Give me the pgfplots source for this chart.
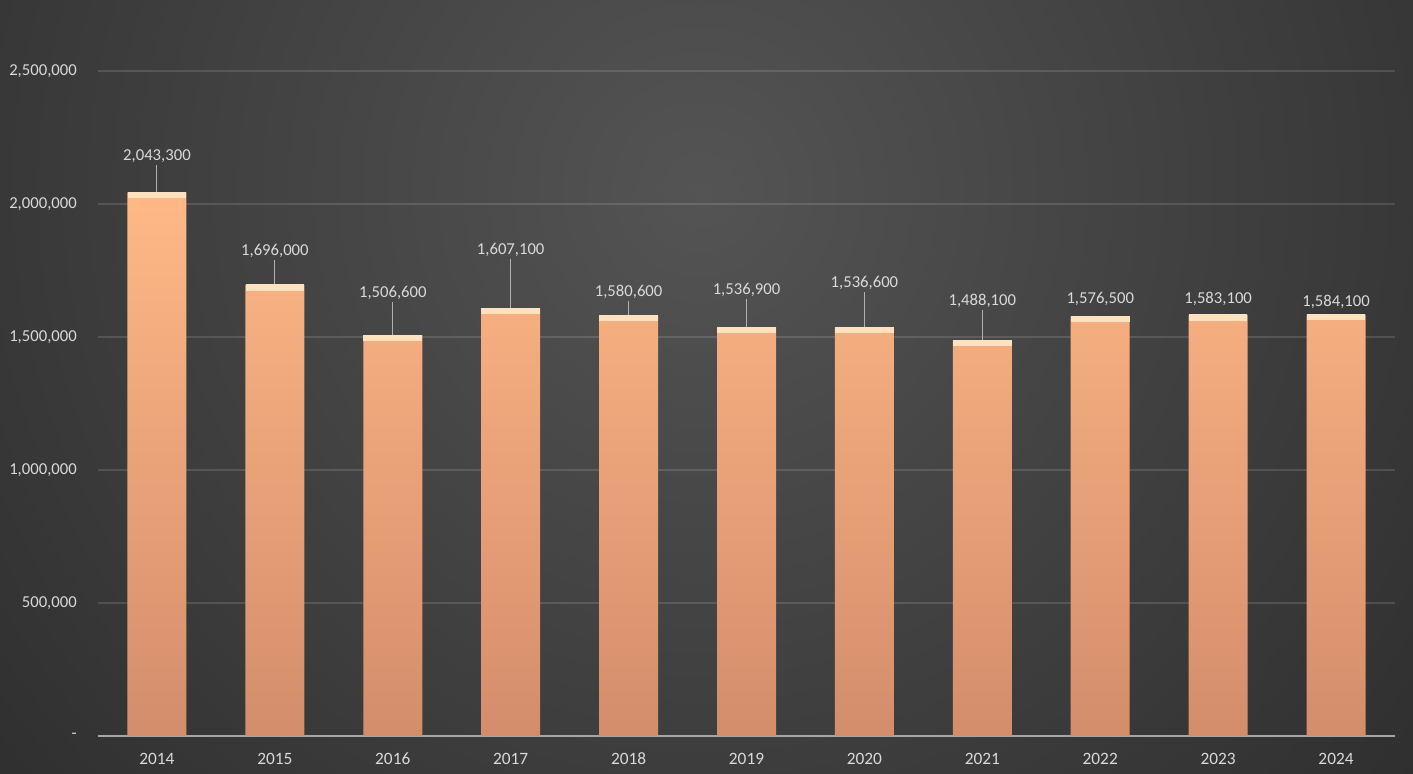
\documentclass[border=0pt]{standalone}
\usepackage{pgfplots}
\usepackage{pgfplotstable}
\pgfplotsset{compat=1.18}
\usepackage{fontspec}
\setmainfont{Carlito}
\definecolor{bgLight}{HTML}{545454}
\definecolor{bgDark}{HTML}{242424}
\definecolor{barTop}{HTML}{FFB886}
\definecolor{barBot}{HTML}{D48D6B}
\definecolor{bevel}{HTML}{FFE0BF}
\definecolor{lbl}{HTML}{D9D9D9}
\definecolor{lead}{HTML}{B0B0B0}
\definecolor{baseline}{HTML}{A6A6A6}

\pgfplotstableread{
x y ly em lab
0 2043300 2146600 103300 2,043,300
1 1696000 1789500 93500 1,696,000
2 1506600 1631600 125000 1,506,600
3 1607100 1793200 186100 1,607,100
4 1580600 1635400 54800 1,580,600
5 1536900 1642900 106000 1,536,900
6 1536600 1669200 132600 1,536,600
7 1488100 1601500 113400 1,488,100
8 1576500 1609000 0 1,576,500
9 1583100 1609000 0 1,583,100
10 1584100 1597000 0 1,584,100
}\datatable

\begin{document}
\begin{tikzpicture}
\path[use as bounding box] (-73.5pt,-28.5pt) rectangle (986.25pt,552pt);
\fill[bgDark] (-73.5pt,-28.5pt) rectangle (986.25pt,552pt);
\begin{scope}
\clip (-73.5pt,-28.5pt) rectangle (986.25pt,552pt);
\shade[inner color=bgLight, outer color=bgDark] (451.5pt,410pt) circle (900pt);
\end{scope}
\begin{axis}[
  at={(0,0)}, anchor=south west,
  scale only axis,
  width=972.75pt, height=498.75pt,
  xmin=-0.5, xmax=10.5,
  ymin=0, ymax=2500000,
  clip=false,
  scaled y ticks=false,
  axis x line*=bottom,
  axis y line*=left,
  y axis line style={draw=none},
  x axis line style={draw=baseline, line width=1.1pt},
  major tick length=0pt,
  tick style={draw=none},
  xtick=data,
  xticklabels={2014,2015,2016,2017,2018,2019,2020,2021,2022,2023,2024},
  ytick={0,500000,1000000,1500000,2000000,2500000},
  yticklabels={{-\hspace{6.5pt}},{500,000},{1,000,000},{1,500,000},{2,000,000},{2,500,000}},
  ymajorgrids,
  major grid style={draw=white, draw opacity=0.13, line width=0.8pt},
  yticklabel style={anchor=east, inner sep=0pt, xshift=-15.75pt, text=lbl, font=\fontsize{12.5}{15}\selectfont},
  xticklabel style={anchor=north, inner sep=0pt, yshift=-12.5pt, text=lbl, font=\fontsize{13}{15}\selectfont},
]
\addplot[ybar, bar width=44.25pt, draw=none, top color=barTop, bottom color=barBot]
  table[x=x, y=y] {\datatable};
\addplot[only marks, color=bevel, mark=square*, mark size=2pt,
  mark options={draw=bevel, fill=bevel, line width=0pt, yshift=-2pt, xscale=10.8}]
  table[x=x, y=y] {\datatable};
\addplot[only marks, mark=none,
  nodes near coords,
  point meta=explicit symbolic,
  every node near coord/.append style={anchor=south, inner sep=1.5pt, text=lbl, font=\fontsize{12.5}{15}\selectfont},
  error bars/.cd, y dir=minus, y explicit, error mark=none,
  error bar style={draw=lead, line width=0.8pt, solid}]
  table[x=x, y=ly, y error minus=em, meta=lab] {\datatable};
\end{axis}
\end{tikzpicture}
\end{document}
